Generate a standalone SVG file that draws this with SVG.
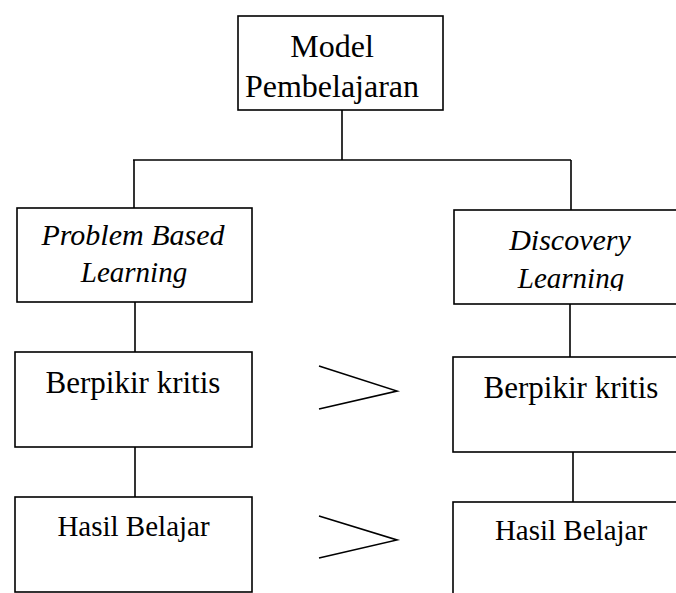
<svg xmlns="http://www.w3.org/2000/svg" width="676" height="593" viewBox="0 0 676 593">
<style>
.box{fill:#fff;stroke:#000;stroke-width:1.6}
.ln{fill:none;stroke:#000;stroke-width:1.6}
text{font-family:"Liberation Serif","Times New Roman",serif;fill:#000;text-anchor:middle}
.it{font-style:italic}
</style>
<defs>
<clipPath id="dlclip"><rect x="454" y="211" width="222" height="80"/></clipPath>
</defs>
<g id="connectors">
<line class="ln" x1="342" y1="110" x2="342" y2="160"/>
<line class="ln" x1="133" y1="160" x2="571" y2="160"/>
<line class="ln" x1="134" y1="160" x2="134" y2="208"/>
<line class="ln" x1="571" y1="160" x2="571" y2="210"/>
<line class="ln" x1="135" y1="302" x2="135" y2="352"/>
<line class="ln" x1="570" y1="304" x2="570" y2="357"/>
<line class="ln" x1="135" y1="447" x2="135" y2="497"/>
<line class="ln" x1="573" y1="452" x2="573" y2="502"/>
</g>
<g id="top">
<rect class="box" x="238" y="16" width="205" height="94"/>
<text x="332" y="57" font-size="32">Model</text>
<text x="332" y="97" font-size="32">Pembelajaran</text>
</g>
<g id="pbl">
<rect class="box" x="17" y="208" width="235" height="94"/>
<text class="it" x="133" y="245" font-size="30">Problem Based</text>
<text class="it" x="134" y="282" font-size="29">Learning</text>
</g>
<g id="dl">
<rect class="box" x="454" y="210" width="240" height="94"/>
<text class="it" x="570" y="250" font-size="30">Discovery</text>
<text class="it" x="571" y="288" font-size="29" clip-path="url(#dlclip)">Learning</text>
</g>
<g id="bk1">
<rect class="box" x="15" y="352" width="237" height="95"/>
<text x="133" y="393" font-size="31">Berpikir kritis</text>
</g>
<g id="bk2">
<rect class="box" x="453" y="357" width="240" height="95"/>
<text x="571" y="398" font-size="31">Berpikir kritis</text>
</g>
<g id="hb1">
<rect class="box" x="15" y="497" width="237" height="95"/>
<text x="133.5" y="536" font-size="29">Hasil Belajar</text>
</g>
<g id="hb2">
<rect class="box" x="453" y="502" width="240" height="110"/>
<text x="571" y="540" font-size="29">Hasil Belajar</text>
</g>
<g id="gt1">
<polyline class="ln" points="319,366 397,391 319,409"/>
</g>
<g id="gt2">
<polyline class="ln" points="319,516 397,540 319,558"/>
</g>
</svg>
